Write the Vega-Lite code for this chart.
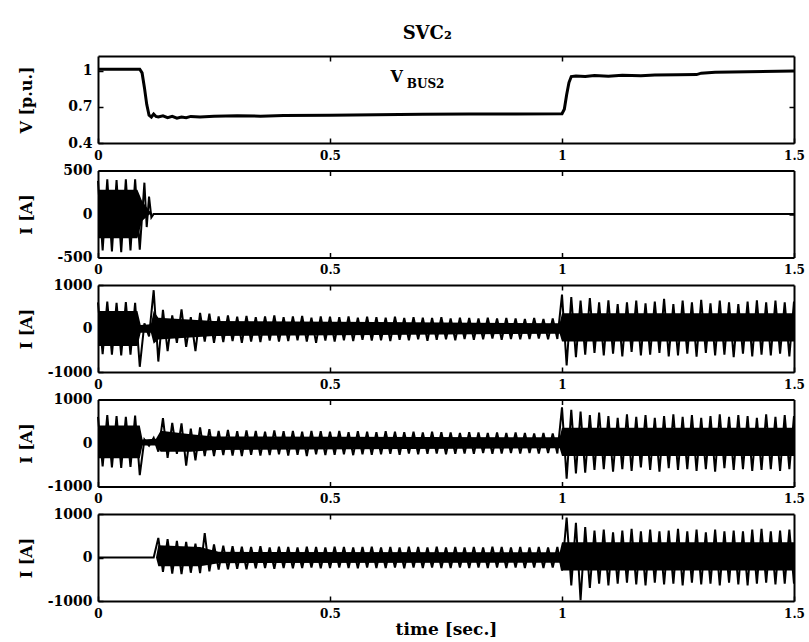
{
"$schema":"https://vega.github.io/schema/vega-lite/v6.json",
"padding":{"left":18,"top":25,"right":2,"bottom":2},
"background":"white",
"title":{"text":"SVC₂","font":"DejaVu Serif","fontSize":18,"fontWeight":"bold","color":"black","anchor":"middle","offset":12,"dx":16},
"config":{"view":{"stroke":null},"axis":{"labelFont":"DejaVu Serif","labelFontSize":14,"labelFontWeight":"bold","labelColor":"black","titleFont":"DejaVu Serif","titleFontSize":16,"titleFontWeight":"bold","titleColor":"black","domainColor":"black","domainWidth":2,"tickColor":"black","tickWidth":1.5,"grid":false,"labelFlush":false,"labelOverlap":false,"labelBound":false},"axisX":{"labelFontSize":12,"labelPadding":12},"axisY":{"labelPadding":11,"titleX":-72,"titleBaseline":"middle"}},
"spacing":27.5,
"bounds":"flush",
"datasets":{
"vb":[{"t":0,"v":1.01},{"t":0.09,"v":1.01},{"t":0.095,"v":0.98},{"t":0.1,"v":0.86},{"t":0.105,"v":0.72},{"t":0.11,"v":0.63},{"t":0.115,"v":0.615},{"t":0.12,"v":0.64},{"t":0.125,"v":0.62},{"t":0.13,"v":0.615},{"t":0.14,"v":0.625},{"t":0.15,"v":0.61},{"t":0.16,"v":0.62},{"t":0.17,"v":0.605},{"t":0.18,"v":0.615},{"t":0.19,"v":0.61},{"t":0.2,"v":0.62},{"t":0.22,"v":0.615},{"t":0.25,"v":0.622},{"t":0.3,"v":0.625},{"t":0.35,"v":0.622},{"t":0.4,"v":0.627},{"t":0.5,"v":0.63},{"t":0.6,"v":0.634},{"t":0.7,"v":0.637},{"t":0.8,"v":0.64},{"t":0.9,"v":0.641},{"t":1.0,"v":0.642},{"t":1.005,"v":0.68},{"t":1.01,"v":0.8},{"t":1.015,"v":0.9},{"t":1.02,"v":0.95},{"t":1.03,"v":0.955},{"t":1.05,"v":0.95},{"t":1.07,"v":0.958},{"t":1.1,"v":0.952},{"t":1.13,"v":0.96},{"t":1.17,"v":0.957},{"t":1.2,"v":0.962},{"t":1.25,"v":0.965},{"t":1.29,"v":0.966},{"t":1.3,"v":0.978},{"t":1.33,"v":0.985},{"t":1.4,"v":0.99},{"t":1.5,"v":0.995}],
"lv":[{"t":0.644,"v":0.95,"s":"V"}],
"lb":[{"t":0.706,"v":0.885,"s":"BUS2"}],
"b1":[{"t":0,"lo":-280,"hi":280},{"t":0.085,"lo":-280,"hi":280},{"t":0.095,"lo":-80,"hi":150},{"t":0.11,"lo":-10,"hi":40},{"t":0.118,"lo":0,"hi":0}],
"i1":[{"t":0,"v":380},{"t":0.01,"v":-420},{"t":0.02,"v":400},{"t":0.03,"v":-430},{"t":0.04,"v":390},{"t":0.05,"v":-440},{"t":0.06,"v":400},{"t":0.07,"v":-420},{"t":0.08,"v":400},{"t":0.09,"v":-410},{"t":0.1,"v":360},{"t":0.105,"v":-150},{"t":0.11,"v":200},{"t":0.115,"v":-40},{"t":0.12,"v":0},{"t":1.5,"v":0}],
"b2":[{"t":0,"lo":-400,"hi":400},{"t":0.085,"lo":-400,"hi":400},{"t":0.092,"lo":-100,"hi":80},{"t":0.114,"lo":-100,"hi":100},{"t":0.12,"lo":-350,"hi":400},{"t":0.13,"lo":-250,"hi":250},{"t":0.25,"lo":-170,"hi":170},{"t":0.6,"lo":-150,"hi":150},{"t":0.995,"lo":-120,"hi":120},{"t":1.0,"lo":-300,"hi":350},{"t":1.5,"lo":-300,"hi":350}],
"i2":[{"t":0,"v":600},{"t":0.01,"v":-590},{"t":0.02,"v":620},{"t":0.03,"v":-600},{"t":0.04,"v":590},{"t":0.05,"v":-620},{"t":0.06,"v":610},{"t":0.07,"v":-600},{"t":0.08,"v":590},{"t":0.09,"v":-880},{"t":0.1,"v":120},{"t":0.11,"v":-180},{"t":0.12,"v":880},{"t":0.13,"v":-760},{"t":0.14,"v":430},{"t":0.15,"v":-520},{"t":0.16,"v":300},{"t":0.17,"v":-330},{"t":0.18,"v":440},{"t":0.19,"v":-420},{"t":0.2,"v":260},{"t":0.21,"v":-520},{"t":0.22,"v":360},{"t":0.23,"v":-300},{"t":0.24,"v":340},{"t":0.25,"v":-330},{"t":0.26,"v":280},{"t":0.27,"v":-310},{"t":0.28,"v":300},{"t":0.29,"v":-290},{"t":0.3,"v":270},{"t":0.31,"v":-330},{"t":0.32,"v":290},{"t":0.33,"v":-300},{"t":0.34,"v":260},{"t":0.35,"v":-310},{"t":0.36,"v":280},{"t":0.37,"v":-280},{"t":0.38,"v":300},{"t":0.39,"v":-300},{"t":0.4,"v":260},{"t":0.41,"v":-290},{"t":0.42,"v":280},{"t":0.43,"v":-270},{"t":0.44,"v":290},{"t":0.45,"v":-300},{"t":0.46,"v":250},{"t":0.47,"v":-330},{"t":0.48,"v":280},{"t":0.49,"v":-280},{"t":0.5,"v":270},{"t":0.51,"v":-300},{"t":0.52,"v":260},{"t":0.53,"v":-270},{"t":0.54,"v":280},{"t":0.55,"v":-290},{"t":0.56,"v":250},{"t":0.57,"v":-260},{"t":0.58,"v":270},{"t":0.59,"v":-280},{"t":0.6,"v":260},{"t":0.61,"v":-270},{"t":0.62,"v":250},{"t":0.63,"v":-290},{"t":0.64,"v":270},{"t":0.65,"v":-260},{"t":0.66,"v":240},{"t":0.67,"v":-270},{"t":0.68,"v":260},{"t":0.69,"v":-250},{"t":0.7,"v":250},{"t":0.71,"v":-280},{"t":0.72,"v":240},{"t":0.73,"v":-260},{"t":0.74,"v":260},{"t":0.75,"v":-250},{"t":0.76,"v":230},{"t":0.77,"v":-270},{"t":0.78,"v":250},{"t":0.79,"v":-240},{"t":0.8,"v":240},{"t":0.81,"v":-260},{"t":0.82,"v":230},{"t":0.83,"v":-250},{"t":0.84,"v":250},{"t":0.85,"v":-230},{"t":0.86,"v":230},{"t":0.87,"v":-260},{"t":0.88,"v":240},{"t":0.89,"v":-240},{"t":0.9,"v":230},{"t":0.91,"v":-250},{"t":0.92,"v":220},{"t":0.93,"v":-240},{"t":0.94,"v":240},{"t":0.95,"v":-230},{"t":0.96,"v":220},{"t":0.97,"v":-250},{"t":0.98,"v":230},{"t":0.99,"v":-240},{"t":1.0,"v":780},{"t":1.01,"v":-850},{"t":1.02,"v":720},{"t":1.03,"v":-660},{"t":1.04,"v":640},{"t":1.05,"v":-600},{"t":1.06,"v":700},{"t":1.07,"v":-560},{"t":1.08,"v":600},{"t":1.09,"v":-620},{"t":1.1,"v":650},{"t":1.11,"v":-580},{"t":1.12,"v":560},{"t":1.13,"v":-640},{"t":1.14,"v":600},{"t":1.15,"v":-540},{"t":1.16,"v":640},{"t":1.17,"v":-620},{"t":1.18,"v":580},{"t":1.19,"v":-600},{"t":1.2,"v":620},{"t":1.21,"v":-560},{"t":1.22,"v":680},{"t":1.23,"v":-640},{"t":1.24,"v":560},{"t":1.25,"v":-620},{"t":1.26,"v":640},{"t":1.27,"v":-580},{"t":1.28,"v":600},{"t":1.29,"v":-650},{"t":1.3,"v":660},{"t":1.31,"v":-560},{"t":1.32,"v":580},{"t":1.33,"v":-620},{"t":1.34,"v":640},{"t":1.35,"v":-600},{"t":1.36,"v":600},{"t":1.37,"v":-660},{"t":1.38,"v":560},{"t":1.39,"v":-580},{"t":1.4,"v":620},{"t":1.41,"v":-640},{"t":1.42,"v":650},{"t":1.43,"v":-600},{"t":1.44,"v":600},{"t":1.45,"v":-620},{"t":1.46,"v":640},{"t":1.47,"v":-580},{"t":1.48,"v":600},{"t":1.49,"v":-640},{"t":1.5,"v":620}],
"b3":[{"t":0,"lo":-350,"hi":400},{"t":0.09,"lo":-350,"hi":400},{"t":0.096,"lo":-60,"hi":80},{"t":0.125,"lo":-60,"hi":100},{"t":0.135,"lo":-200,"hi":280},{"t":0.2,"lo":-200,"hi":200},{"t":0.25,"lo":-160,"hi":150},{"t":0.995,"lo":-120,"hi":130},{"t":1.0,"lo":-300,"hi":350},{"t":1.5,"lo":-300,"hi":350}],
"i3":[{"t":0,"v":600},{"t":0.01,"v":-540},{"t":0.02,"v":640},{"t":0.03,"v":-560},{"t":0.04,"v":620},{"t":0.05,"v":-570},{"t":0.06,"v":600},{"t":0.07,"v":-550},{"t":0.08,"v":630},{"t":0.09,"v":-740},{"t":0.1,"v":80},{"t":0.11,"v":-60},{"t":0.12,"v":120},{"t":0.13,"v":-200},{"t":0.14,"v":570},{"t":0.15,"v":-340},{"t":0.16,"v":460},{"t":0.17,"v":-250},{"t":0.18,"v":450},{"t":0.19,"v":-520},{"t":0.2,"v":330},{"t":0.21,"v":-400},{"t":0.22,"v":360},{"t":0.23,"v":-300},{"t":0.24,"v":320},{"t":0.25,"v":-300},{"t":0.26,"v":280},{"t":0.27,"v":-280},{"t":0.28,"v":300},{"t":0.29,"v":-290},{"t":0.3,"v":270},{"t":0.31,"v":-300},{"t":0.32,"v":290},{"t":0.33,"v":-270},{"t":0.34,"v":280},{"t":0.35,"v":-290},{"t":0.36,"v":260},{"t":0.37,"v":-280},{"t":0.38,"v":290},{"t":0.39,"v":-260},{"t":0.4,"v":270},{"t":0.41,"v":-290},{"t":0.42,"v":280},{"t":0.43,"v":-270},{"t":0.44,"v":260},{"t":0.45,"v":-300},{"t":0.46,"v":280},{"t":0.47,"v":-260},{"t":0.48,"v":270},{"t":0.49,"v":-280},{"t":0.5,"v":260},{"t":0.51,"v":-270},{"t":0.52,"v":280},{"t":0.53,"v":-260},{"t":0.54,"v":250},{"t":0.55,"v":-280},{"t":0.56,"v":270},{"t":0.57,"v":-260},{"t":0.58,"v":260},{"t":0.59,"v":-270},{"t":0.6,"v":250},{"t":0.61,"v":-260},{"t":0.62,"v":270},{"t":0.63,"v":-250},{"t":0.64,"v":260},{"t":0.65,"v":-270},{"t":0.66,"v":250},{"t":0.67,"v":-240},{"t":0.68,"v":260},{"t":0.69,"v":-260},{"t":0.7,"v":240},{"t":0.71,"v":-250},{"t":0.72,"v":260},{"t":0.73,"v":-240},{"t":0.74,"v":250},{"t":0.75,"v":-260},{"t":0.76,"v":240},{"t":0.77,"v":-250},{"t":0.78,"v":230},{"t":0.79,"v":-240},{"t":0.8,"v":250},{"t":0.81,"v":-250},{"t":0.82,"v":240},{"t":0.83,"v":-230},{"t":0.84,"v":230},{"t":0.85,"v":-250},{"t":0.86,"v":240},{"t":0.87,"v":-240},{"t":0.88,"v":230},{"t":0.89,"v":-230},{"t":0.9,"v":240},{"t":0.91,"v":-240},{"t":0.92,"v":230},{"t":0.93,"v":-230},{"t":0.94,"v":220},{"t":0.95,"v":-240},{"t":0.96,"v":230},{"t":0.97,"v":-230},{"t":0.98,"v":220},{"t":0.99,"v":-240},{"t":1.0,"v":820},{"t":1.01,"v":-820},{"t":1.02,"v":760},{"t":1.03,"v":-700},{"t":1.04,"v":720},{"t":1.05,"v":-680},{"t":1.06,"v":640},{"t":1.07,"v":-620},{"t":1.08,"v":700},{"t":1.09,"v":-600},{"t":1.1,"v":620},{"t":1.11,"v":-660},{"t":1.12,"v":580},{"t":1.13,"v":-600},{"t":1.14,"v":660},{"t":1.15,"v":-640},{"t":1.16,"v":600},{"t":1.17,"v":-560},{"t":1.18,"v":640},{"t":1.19,"v":-620},{"t":1.2,"v":580},{"t":1.21,"v":-660},{"t":1.22,"v":620},{"t":1.23,"v":-580},{"t":1.24,"v":660},{"t":1.25,"v":-620},{"t":1.26,"v":600},{"t":1.27,"v":-600},{"t":1.28,"v":640},{"t":1.29,"v":-640},{"t":1.3,"v":580},{"t":1.31,"v":-600},{"t":1.32,"v":620},{"t":1.33,"v":-660},{"t":1.34,"v":660},{"t":1.35,"v":-580},{"t":1.36,"v":600},{"t":1.37,"v":-620},{"t":1.38,"v":640},{"t":1.39,"v":-600},{"t":1.4,"v":620},{"t":1.41,"v":-640},{"t":1.42,"v":580},{"t":1.43,"v":-620},{"t":1.44,"v":660},{"t":1.45,"v":-600},{"t":1.46,"v":600},{"t":1.47,"v":-640},{"t":1.48,"v":640},{"t":1.49,"v":-600},{"t":1.5,"v":620}],
"b4":[{"t":0.125,"lo":0,"hi":0},{"t":0.13,"lo":-200,"hi":280},{"t":0.22,"lo":-200,"hi":240},{"t":0.26,"lo":-130,"hi":130},{"t":0.995,"lo":-120,"hi":120},{"t":1.0,"lo":-300,"hi":350},{"t":1.5,"lo":-300,"hi":350}],
"i4":[{"t":0,"v":0},{"t":0.12,"v":0},{"t":0.13,"v":450},{"t":0.14,"v":-330},{"t":0.15,"v":420},{"t":0.16,"v":-370},{"t":0.17,"v":380},{"t":0.18,"v":-380},{"t":0.19,"v":360},{"t":0.2,"v":-350},{"t":0.21,"v":320},{"t":0.22,"v":-360},{"t":0.23,"v":560},{"t":0.24,"v":-320},{"t":0.25,"v":300},{"t":0.26,"v":-280},{"t":0.27,"v":270},{"t":0.28,"v":-270},{"t":0.29,"v":260},{"t":0.3,"v":-260},{"t":0.31,"v":250},{"t":0.32,"v":-270},{"t":0.33,"v":240},{"t":0.34,"v":-250},{"t":0.35,"v":260},{"t":0.36,"v":-240},{"t":0.37,"v":230},{"t":0.38,"v":-260},{"t":0.39,"v":250},{"t":0.4,"v":-240},{"t":0.41,"v":240},{"t":0.42,"v":-250},{"t":0.43,"v":230},{"t":0.44,"v":-240},{"t":0.45,"v":250},{"t":0.46,"v":-230},{"t":0.47,"v":240},{"t":0.48,"v":-250},{"t":0.49,"v":230},{"t":0.5,"v":-240},{"t":0.51,"v":250},{"t":0.52,"v":-230},{"t":0.53,"v":240},{"t":0.54,"v":-240},{"t":0.55,"v":230},{"t":0.56,"v":-250},{"t":0.57,"v":240},{"t":0.58,"v":-230},{"t":0.59,"v":250},{"t":0.6,"v":-240},{"t":0.61,"v":230},{"t":0.62,"v":-240},{"t":0.63,"v":240},{"t":0.64,"v":-230},{"t":0.65,"v":230},{"t":0.66,"v":-250},{"t":0.67,"v":250},{"t":0.68,"v":-230},{"t":0.69,"v":240},{"t":0.7,"v":-240},{"t":0.71,"v":230},{"t":0.72,"v":-230},{"t":0.73,"v":250},{"t":0.74,"v":-240},{"t":0.75,"v":230},{"t":0.76,"v":-240},{"t":0.77,"v":240},{"t":0.78,"v":-230},{"t":0.79,"v":230},{"t":0.8,"v":-240},{"t":0.81,"v":240},{"t":0.82,"v":-230},{"t":0.83,"v":230},{"t":0.84,"v":-240},{"t":0.85,"v":250},{"t":0.86,"v":-230},{"t":0.87,"v":240},{"t":0.88,"v":-240},{"t":0.89,"v":230},{"t":0.9,"v":-230},{"t":0.91,"v":240},{"t":0.92,"v":-240},{"t":0.93,"v":230},{"t":0.94,"v":-230},{"t":0.95,"v":240},{"t":0.96,"v":-240},{"t":0.97,"v":230},{"t":0.98,"v":-230},{"t":0.99,"v":240},{"t":1.0,"v":-300},{"t":1.01,"v":920},{"t":1.02,"v":-640},{"t":1.03,"v":800},{"t":1.04,"v":-980},{"t":1.05,"v":700},{"t":1.06,"v":-700},{"t":1.07,"v":620},{"t":1.08,"v":-600},{"t":1.09,"v":640},{"t":1.1,"v":-640},{"t":1.11,"v":580},{"t":1.12,"v":-600},{"t":1.13,"v":620},{"t":1.14,"v":-580},{"t":1.15,"v":660},{"t":1.16,"v":-620},{"t":1.17,"v":600},{"t":1.18,"v":-640},{"t":1.19,"v":640},{"t":1.2,"v":-580},{"t":1.21,"v":600},{"t":1.22,"v":-620},{"t":1.23,"v":620},{"t":1.24,"v":-600},{"t":1.25,"v":660},{"t":1.26,"v":-640},{"t":1.27,"v":600},{"t":1.28,"v":-580},{"t":1.29,"v":640},{"t":1.3,"v":-620},{"t":1.31,"v":580},{"t":1.32,"v":-600},{"t":1.33,"v":640},{"t":1.34,"v":-640},{"t":1.35,"v":600},{"t":1.36,"v":-580},{"t":1.37,"v":620},{"t":1.38,"v":-620},{"t":1.39,"v":600},{"t":1.4,"v":-640},{"t":1.41,"v":640},{"t":1.42,"v":-600},{"t":1.43,"v":660},{"t":1.44,"v":-580},{"t":1.45,"v":600},{"t":1.46,"v":-620},{"t":1.47,"v":620},{"t":1.48,"v":-600},{"t":1.49,"v":640},{"t":1.5,"v":-600}]
},
"vconcat":[
{"width":696,"height":87,
 "layer":[
  {"data":{"name":"vb"},"mark":{"type":"line","color":"black","strokeWidth":3},
   "encoding":{
    "x":{"field":"t","type":"quantitative","scale":{"domain":[0,1.5],"nice":false},"axis":{"orient":"bottom","values":[0,0.5,1,1.5],"tickSize":-5,"labelExpr":"'' + datum.value","title":null}},
    "y":{"field":"v","type":"quantitative","scale":{"domain":[0.4,1.12],"nice":false,"zero":false},"axis":{"orient":"left","values":[0.4,0.7,1],"tickSize":-5,"labelExpr":"'' + datum.value","title":"V [p.u.]"}}}},
  {"data":{"name":"lv"},"mark":{"type":"text","font":"DejaVu Serif","fontWeight":"bold","fontSize":16,"color":"black"},
   "encoding":{
    "x":{"field":"t","type":"quantitative","scale":{"domain":[0,1.5],"nice":false},"axis":{"orient":"top","labels":false,"values":[0.5,1],"tickSize":-5,"title":null}},
    "y":{"field":"v","type":"quantitative","scale":{"domain":[0.4,1.12],"nice":false,"zero":false},"axis":{"orient":"right","labels":false,"values":[0.7],"tickSize":-5,"title":null}},
    "text":{"field":"s"}}},
  {"data":{"name":"lb"},"mark":{"type":"text","font":"DejaVu Serif","fontWeight":"bold","fontSize":12,"color":"black"},
   "encoding":{
    "x":{"field":"t","type":"quantitative","scale":{"domain":[0,1.5],"nice":false},"axis":null},
    "y":{"field":"v","type":"quantitative","scale":{"domain":[0.4,1.12],"nice":false,"zero":false},"axis":null},
    "text":{"field":"s"}}}
 ],
 "resolve":{"axis":{"x":"independent","y":"independent"}}},
{"width":696,"height":87,
 "layer":[
  {"data":{"name":"b1"},"mark":{"type":"area","color":"black"},
   "encoding":{
    "x":{"field":"t","type":"quantitative","scale":{"domain":[0,1.5],"nice":false},"axis":{"orient":"top","labels":false,"values":[0.5,1],"tickSize":-5,"title":null}},
    "y":{"field":"lo","type":"quantitative","scale":{"domain":[-500,500],"nice":false},"axis":{"orient":"right","labels":false,"values":[0],"tickSize":-5,"title":null}},
    "y2":{"field":"hi"}}},
  {"data":{"name":"i1"},"mark":{"type":"line","color":"black","strokeWidth":2},
   "encoding":{
    "x":{"field":"t","type":"quantitative","scale":{"domain":[0,1.5],"nice":false},"axis":{"orient":"bottom","values":[0,0.5,1,1.5],"tickSize":-5,"labelExpr":"'' + datum.value","title":null}},
    "y":{"field":"v","type":"quantitative","scale":{"domain":[-500,500],"nice":false},"axis":{"orient":"left","values":[-500,0,500],"tickSize":-5,"labelExpr":"'' + datum.value","title":"I [A]"}}}}
 ],
 "resolve":{"axis":{"x":"independent","y":"independent"}}},
{"width":696,"height":87,
 "layer":[
  {"data":{"name":"b2"},"mark":{"type":"area","color":"black"},
   "encoding":{
    "x":{"field":"t","type":"quantitative","scale":{"domain":[0,1.5],"nice":false},"axis":{"orient":"top","labels":false,"values":[0.5,1],"tickSize":-5,"title":null}},
    "y":{"field":"lo","type":"quantitative","scale":{"domain":[-1000,1000],"nice":false},"axis":{"orient":"right","labels":false,"values":[0],"tickSize":-5,"title":null}},
    "y2":{"field":"hi"}}},
  {"data":{"name":"i2"},"mark":{"type":"line","color":"black","strokeWidth":2},
   "encoding":{
    "x":{"field":"t","type":"quantitative","scale":{"domain":[0,1.5],"nice":false},"axis":{"orient":"bottom","values":[0,0.5,1,1.5],"tickSize":-5,"labelExpr":"'' + datum.value","title":null}},
    "y":{"field":"v","type":"quantitative","scale":{"domain":[-1000,1000],"nice":false},"axis":{"orient":"left","values":[-1000,0,1000],"tickSize":-5,"labelExpr":"'' + datum.value","title":"I [A]"}}}}
 ],
 "resolve":{"axis":{"x":"independent","y":"independent"}}},
{"width":696,"height":87,
 "layer":[
  {"data":{"name":"b3"},"mark":{"type":"area","color":"black"},
   "encoding":{
    "x":{"field":"t","type":"quantitative","scale":{"domain":[0,1.5],"nice":false},"axis":{"orient":"top","labels":false,"values":[0.5,1],"tickSize":-5,"title":null}},
    "y":{"field":"lo","type":"quantitative","scale":{"domain":[-1000,1000],"nice":false},"axis":{"orient":"right","labels":false,"values":[0],"tickSize":-5,"title":null}},
    "y2":{"field":"hi"}}},
  {"data":{"name":"i3"},"mark":{"type":"line","color":"black","strokeWidth":2},
   "encoding":{
    "x":{"field":"t","type":"quantitative","scale":{"domain":[0,1.5],"nice":false},"axis":{"orient":"bottom","values":[0,0.5,1,1.5],"tickSize":-5,"labelExpr":"'' + datum.value","title":null}},
    "y":{"field":"v","type":"quantitative","scale":{"domain":[-1000,1000],"nice":false},"axis":{"orient":"left","values":[-1000,0,1000],"tickSize":-5,"labelExpr":"'' + datum.value","title":"I [A]"}}}}
 ],
 "resolve":{"axis":{"x":"independent","y":"independent"}}},
{"width":696,"height":87,
 "layer":[
  {"data":{"name":"b4"},"mark":{"type":"area","color":"black"},
   "encoding":{
    "x":{"field":"t","type":"quantitative","scale":{"domain":[0,1.5],"nice":false},"axis":{"orient":"top","labels":false,"values":[0.5,1],"tickSize":-5,"title":null}},
    "y":{"field":"lo","type":"quantitative","scale":{"domain":[-1000,1000],"nice":false},"axis":{"orient":"right","labels":false,"values":[0],"tickSize":-5,"title":null}},
    "y2":{"field":"hi"}}},
  {"data":{"name":"i4"},"mark":{"type":"line","color":"black","strokeWidth":2},
   "encoding":{
    "x":{"field":"t","type":"quantitative","scale":{"domain":[0,1.5],"nice":false},"axis":{"orient":"bottom","values":[0,0.5,1,1.5],"tickSize":-5,"labelExpr":"'' + datum.value","title":"time [sec.]","titleFontSize":17,"titlePadding":2}},
    "y":{"field":"v","type":"quantitative","scale":{"domain":[-1000,1000],"nice":false},"axis":{"orient":"left","values":[-1000,0,1000],"tickSize":-5,"labelExpr":"'' + datum.value","title":"I [A]"}}}}
 ],
 "resolve":{"axis":{"x":"independent","y":"independent"}}}
]
}
